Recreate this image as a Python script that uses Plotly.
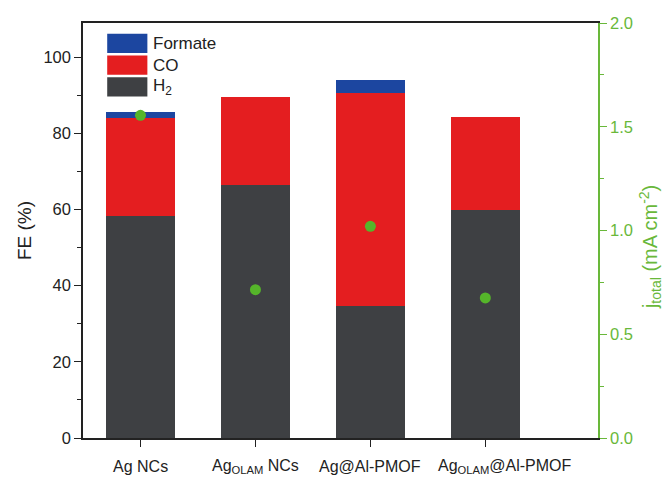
import plotly.graph_objects as go

# Catalyst samples and their Faradaic efficiencies (%)
samples = ["Ag NCs", "Ag<sub>OLAM</sub> NCs", "Ag@Al-PMOF", "Ag<sub>OLAM</sub>@Al-PMOF"]
label_shift = [0, 0, 0, 20]  # px nudge for the sample labels under the axis
fe_h2 = [58.4, 66.5, 34.6, 59.8]
fe_co = [25.6, 23.0, 56.0, 24.4]
fe_formate = [1.6, 0.0, 3.5, 0.0]
# Total current density (mA cm^-2)
j_total = [1.555, 0.715, 1.02, 0.675]

products = ["Formate", "CO", "H<sub>2</sub>"]
colors = {"Formate": "#1c46a0", "CO": "#e41e20", "H<sub>2</sub>": "#3e4043"}
green = "#69b83a"
font = "Liberation Sans, Arial, sans-serif"

x = list(range(len(samples)))

fig = go.Figure()
for name, vals in [("H<sub>2</sub>", fe_h2), ("CO", fe_co), ("Formate", fe_formate)]:
    fig.add_trace(go.Bar(x=x, y=vals, name=name, width=0.6,
                         marker=dict(color=colors[name], line=dict(width=0)),
                         showlegend=False))

fig.add_trace(go.Scatter(x=x, y=j_total, yaxis="y2", mode="markers",
                         marker=dict(color="#55b52a", size=11),
                         showlegend=False))

# Legend drawn as swatches with labels
shapes = []
annotations = []
for i, name in enumerate(products):
    y0 = 0.974 - i * 0.0525
    shapes.append(dict(type="rect", xref="paper", yref="paper",
                       x0=0.047, x1=0.125, y0=y0 - 0.046, y1=y0,
                       fillcolor=colors[name], line=dict(width=0)))
    annotations.append(dict(xref="paper", yref="paper", x=0.133, y=y0 - 0.023,
                            text=name, showarrow=False, xanchor="left",
                            yanchor="middle",
                            font=dict(family=font, size=17, color="#222")))

# Sample labels under each bar
for xi, label, dx in zip(x, samples, label_shift):
    annotations.append(dict(xref="x", yref="paper", x=xi, y=0, yshift=-28,
                            xshift=dx, text=label, showarrow=False,
                            xanchor="center", yanchor="middle",
                            font=dict(family=font, size=16, color="#222")))

# Right-axis title
annotations.append(dict(xref="paper", yref="paper", x=1.0, xshift=52,
                        y=0.46, text="j<sub>total</sub> (mA cm<sup>-2</sup>)",
                        textangle=-90, showarrow=False,
                        xanchor="center", yanchor="middle",
                        font=dict(family=font, size=20, color=green)))

fig.update_layout(
    width=667, height=478,
    margin=dict(l=83, r=69, t=23, b=40),
    plot_bgcolor="white", paper_bgcolor="white",
    barmode="stack", bargap=0.4,
    font=dict(family=font, size=16, color="#222"),
    shapes=shapes, annotations=annotations,
    xaxis=dict(range=[-0.5, 3.98], tickvals=x, showticklabels=False,
               showline=True, linecolor="#222", linewidth=1.5, mirror=True,
               ticks="outside", ticklen=7, tickcolor="#222",
               showgrid=False, zeroline=False, automargin=False),
    yaxis=dict(range=[0, 109], tickvals=[0, 20, 40, 60, 80, 100],
               showline=True, linecolor="#222", linewidth=1.5,
               ticks="outside", ticklen=7, tickcolor="#222",
               minor=dict(dtick=10, tick0=0, ticks="outside",
                          ticklen=4, tickcolor="#222"),
               showgrid=False, zeroline=False, automargin=False,
               title=dict(text="FE (%)", font=dict(size=19), standoff=7),
               tickfont=dict(size=16.5)),
    yaxis2=dict(range=[0, 2.0], overlaying="y", side="right",
                tickvals=[0, 0.5, 1.0, 1.5, 2.0],
                ticktext=["0.0", "0.5", "1.0", "1.5", "2.0"],
                showline=True, linecolor=green, linewidth=1.5,
                ticks="outside", ticklen=7, tickcolor=green,
                minor=dict(dtick=0.25, tick0=0, ticks="outside",
                           ticklen=4, tickcolor=green),
                showgrid=False, zeroline=False, automargin=False,
                tickfont=dict(size=16.5, color=green)),
)

fig.write_html("out.html")
